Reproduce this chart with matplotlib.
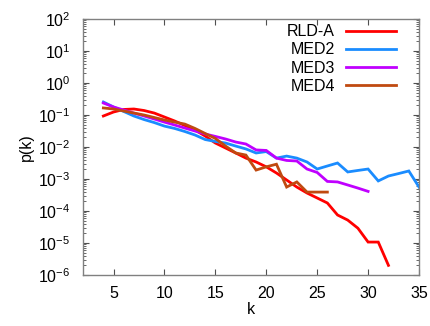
import matplotlib
matplotlib.use("Agg")
import matplotlib.pyplot as plt
from matplotlib.ticker import LogLocator, LogFormatterSciNotation, NullFormatter, MultipleLocator

plt.rcParams['font.family'] = ['Liberation Sans', 'DejaVu Sans']
plt.rcParams['mathtext.default'] = 'regular'

# degree distributions p(k)
k_rld = list(range(4, 33))
p_rld = [0.093, 0.124, 0.149, 0.154, 0.138, 0.115, 0.0866, 0.065, 0.047, 0.034,
         0.022, 0.0133, 0.0093, 0.0065, 0.0045, 0.0034, 0.0024, 0.00154, 0.00093,
         0.00056, 0.000365, 0.000255, 0.000178, 7.5e-5, 5.2e-5, 2.9e-5, 1.07e-5,
         1.07e-5, 2.0e-6]

k_med2 = list(range(4, 36))
p_med2 = [0.255, 0.178, 0.129, 0.093, 0.072, 0.058, 0.045, 0.038, 0.0305, 0.0237,
          0.0171, 0.0149, 0.0133, 0.0107, 0.0087, 0.0065, 0.0072, 0.0045, 0.0052,
          0.0045, 0.0034, 0.00205, 0.00255, 0.00316, 0.00166, 0.00185, 0.00205,
          0.00087, 0.00124, 0.00148, 0.00178, 0.00056]

k_med3 = list(range(4, 31))
p_med3 = [0.237, 0.178, 0.143, 0.115, 0.093, 0.075, 0.060, 0.0487, 0.039, 0.0316,
          0.0255, 0.0214, 0.0178, 0.0143, 0.0124, 0.0081, 0.0078, 0.0045, 0.0038,
          0.00365, 0.00205, 0.0016, 0.00084, 0.00081, 0.00065, 0.00052, 0.00041]

k_med4 = list(range(4, 27))
p_med4 = [0.166, 0.154, 0.133, 0.115, 0.1, 0.0835, 0.0698, 0.060, 0.052, 0.038,
          0.0264, 0.0185, 0.0107, 0.0065, 0.0056, 0.0019, 0.0024, 0.0029, 0.00056,
          0.00081, 0.00039, 0.00039, 0.00039]

series_labels = ["RLD-A", "MED2", "MED3", "MED4"]
series_colors = ["#ff0000", "#1a8cff", "#c000ff", "#c04a10"]

W, H = 431, 326
fig = plt.figure(figsize=(W / 100, H / 100), dpi=100)
ax = fig.add_axes([83 / W, 1 - 275 / H, (419 - 83) / W, (275 - 19) / H])

for kk, pp, lab, col in zip([k_rld, k_med2, k_med3, k_med4],
                            [p_rld, p_med2, p_med3, p_med4],
                            series_labels, series_colors):
    ax.plot(kk, pp, color=col, lw=2.0, label=lab, solid_joinstyle='miter')

ax.set_yscale('log')
ax.set_xlim(2, 35)
ax.set_ylim(1e-6, 1e2)
ax.xaxis.set_major_locator(MultipleLocator(5))
ax.yaxis.set_major_locator(LogLocator(base=10, numticks=20))
ax.yaxis.set_major_formatter(LogFormatterSciNotation())
ax.yaxis.set_minor_locator(LogLocator(base=10, subs=range(2, 10), numticks=20))
ax.yaxis.set_minor_formatter(NullFormatter())

for s in ax.spines.values():
    s.set_color('#808080')
    s.set_linewidth(1.0)

ax.tick_params(which='both', direction='in', top=True, right=True,
               color='#505050', labelsize=11.5)
ax.tick_params(which='major', length=4, width=0.8)
ax.tick_params(which='minor', length=2, width=0.6)
ax.tick_params(axis='x', pad=8)
ax.tick_params(axis='y', pad=9)

ax.set_xlabel("k", fontsize=11.5, labelpad=1)
ax.set_ylabel("p(k)", fontsize=11.5, labelpad=3)

leg = ax.legend(loc='upper right', frameon=False, markerfirst=False,
                fontsize=11.5, handlelength=3.1, labelspacing=0.2,
                handletextpad=0.7, borderaxespad=0.3,
                bbox_to_anchor=(0.964, 1.023))
for t in leg.get_texts():
    t.set_ha('right')

fig.savefig("out.png", dpi=100)
